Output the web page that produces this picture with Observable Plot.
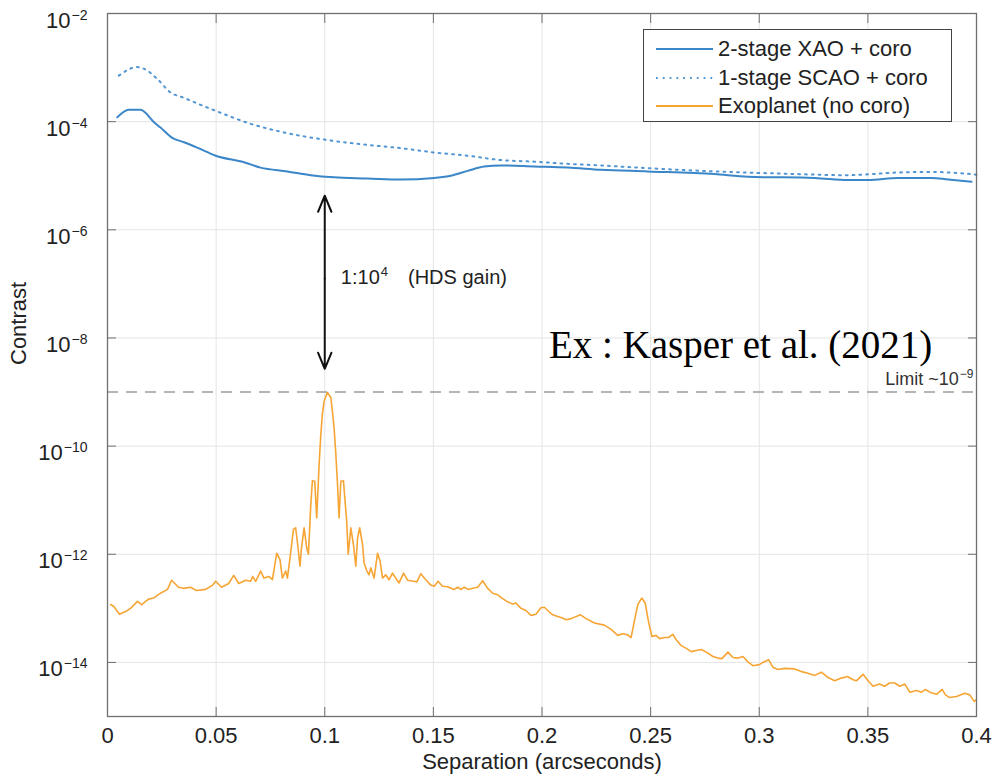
<!DOCTYPE html>
<html><head><meta charset="utf-8">
<script src="https://cdn.jsdelivr.net/npm/d3@7"></script>
<script src="https://cdn.jsdelivr.net/npm/@observablehq/plot@0.6"></script>
<style>
body{margin:0;background:#fff;}
#wrap{position:relative;width:995px;height:779px;font-family:"Liberation Sans",Arial,sans-serif;}
#legend{position:absolute;left:643px;top:29px;width:307px;height:91px;border:1px solid #444;background:#fff;}
#legend .row{position:absolute;left:0;height:28px;width:307px;}
#legend svg{position:absolute;left:12px;top:0;}
#legend span{position:absolute;left:74px;top:1px;font-size:22px;color:#222;white-space:nowrap;line-height:26px;}
</style></head><body><div id="wrap"></div>
<script>
// ---- axis ticks ----
const xTicks = [0, 0.05, 0.1, 0.15, 0.2, 0.25, 0.3, 0.35, 0.4];
const xTickLabels = ["0", "0.05", "0.1", "0.15", "0.2", "0.25", "0.3", "0.35", "0.4"];
const yTickExponents = [-14, -12, -10, -8, -6, -4, -2];
const yTicks = yTickExponents.map(e => 10 ** e);

// ---- series: separation (arcsec) and log10(contrast) ----
const xaoSep = [0.0045,0.0098,0.0152,0.0214,0.0244,0.0298,0.0352,0.0413,0.0498,0.0628,0.0705,0.0828,0.0935,0.1043,0.1197,0.1350,0.1504,0.1581,0.1658,0.1734,0.1811,0.1965,0.2118,0.2272,0.2487,0.2794,0.2948,0.3255,0.3409,0.3501,0.3639,0.3793,0.3870,0.3977];
const xaoLog = [-3.92,-3.78,-3.78,-4.01,-4.11,-4.30,-4.38,-4.48,-4.63,-4.75,-4.85,-4.92,-4.99,-5.03,-5.05,-5.07,-5.04,-5.00,-4.91,-4.83,-4.81,-4.83,-4.85,-4.89,-4.92,-4.97,-5.02,-5.04,-5.08,-5.08,-5.04,-5.04,-5.07,-5.11];

const scaoSep = [0.0052,0.0137,0.0167,0.0229,0.0290,0.0352,0.0429,0.0498,0.0659,0.0812,0.1012,0.1197,0.1350,0.1504,0.1658,0.1811,0.1965,0.2118,0.2272,0.2487,0.2794,0.3101,0.3409,0.3516,0.3639,0.3793,0.3916,0.4000];
const scaoLog = [-3.15,-2.99,-3.02,-3.21,-3.46,-3.56,-3.69,-3.80,-4.04,-4.20,-4.34,-4.43,-4.49,-4.57,-4.63,-4.71,-4.74,-4.78,-4.81,-4.86,-4.92,-4.96,-4.99,-4.97,-4.94,-4.93,-4.95,-4.98];

const exoSep = [0.0014,0.0028,0.0055,0.0083,0.0106,0.0138,0.0157,0.0189,0.0212,0.0244,0.0276,0.0295,0.0327,0.0350,0.0382,0.0410,0.0452,0.0484,0.0498,0.0525,0.0558,0.0581,0.0604,0.0636,0.0659,0.0668,0.0682,
0.0705,0.0720,0.0743,0.0759,0.0779,0.0794,0.0805,0.0820,0.0828,0.0840,0.0856,0.0866,0.0877,0.0886,0.0893,0.0905,0.0917,0.0925,0.0935,0.0943,0.0954,0.0963,0.0974,0.0982,0.0989,0.0997,0.1012,0.1028,0.1035,0.1043,0.1051,0.1058,0.1066,0.1074,0.1086,0.1101,0.1108,0.1120,0.1132,0.1143,0.1151,0.1161,0.1174,0.1181,0.1194,0.1204,0.1212,0.1227,0.1243,0.1255,0.1266,0.1281,0.1296,0.1312,
0.1342,0.1363,0.1381,0.1409,0.1424,0.1442,0.1465,0.1488,0.1504,0.1522,0.1542,0.1565,0.1596,0.1612,0.1627,0.1642,0.1660,0.1681,0.1704,0.1727,0.1750,0.1773,0.1796,0.1819,0.1842,0.1865,0.1880,0.1903,0.1926,0.1949,0.1972,0.1995,0.2011,0.2026,0.2049,0.2072,0.2095,0.2111,0.2134,
0.2177,0.2203,0.2241,0.2287,0.2318,0.2349,0.2372,0.2395,0.2410,0.2425,0.2441,0.2459,0.2475,0.2490,0.2506,0.2525,0.2541,0.2564,0.2582,0.2602,0.2618,0.2641,0.2664,0.2687,0.2710,0.2733,0.2756,0.2787,0.2810,0.2828,0.2856,0.2879,0.2902,0.2925,0.2948,0.2971,0.3001,
0.3017,0.3043,0.3063,0.3086,0.3117,0.3163,0.3194,0.3224,0.3255,0.3286,0.3317,0.3347,0.3378,0.3406,0.3432,0.3447,0.3478,0.3501,0.3524,0.3554,0.3577,0.3600,0.3624,0.3647,0.3670,0.3693,0.3724,0.3747,0.3765,0.3785,0.3816,0.3842,0.3857,0.3877,0.3908,0.3946,0.3969,0.3989,0.4000];
const exoLog = [-12.93,-12.96,-13.11,-13.06,-13.00,-12.87,-12.93,-12.83,-12.81,-12.72,-12.65,-12.48,-12.61,-12.63,-12.61,-12.67,-12.65,-12.57,-12.50,-12.61,-12.54,-12.39,-12.54,-12.48,-12.50,-12.41,-12.50,
-12.31,-12.44,-12.41,-12.47,-11.98,-12.10,-12.44,-12.31,-12.44,-12.07,-11.54,-11.51,-11.88,-12.22,-11.88,-11.51,-11.88,-12.00,-11.14,-10.64,-10.65,-11.33,-10.34,-9.78,-9.41,-9.17,-9.01,-9.10,-9.35,-9.66,-10.15,-10.65,-11.33,-10.65,-10.64,-11.39,-12.00,-11.51,-11.82,-12.22,-11.70,-11.51,-11.82,-12.16,-12.31,-12.38,-12.25,-12.44,-11.98,-12.13,-12.44,-12.38,-12.47,-12.35,
-12.53,-12.35,-12.48,-12.50,-12.51,-12.36,-12.47,-12.57,-12.59,-12.50,-12.59,-12.60,-12.65,-12.61,-12.65,-12.61,-12.65,-12.63,-12.61,-12.49,-12.63,-12.72,-12.75,-12.82,-12.88,-12.92,-12.90,-13.00,-13.04,-13.13,-13.11,-12.99,-12.98,-13.04,-13.12,-13.15,-13.18,-13.21,-13.19,
-13.12,-13.19,-13.27,-13.31,-13.39,-13.50,-13.47,-13.49,-13.54,-13.24,-12.93,-12.81,-12.90,-13.24,-13.52,-13.50,-13.56,-13.54,-13.54,-13.48,-13.58,-13.69,-13.74,-13.80,-13.78,-13.76,-13.81,-13.89,-13.92,-13.93,-13.81,-13.91,-13.92,-13.89,-13.99,-14.06,-14.04,
-14.00,-13.95,-14.09,-14.13,-14.11,-14.12,-14.17,-14.20,-14.24,-14.18,-14.28,-14.34,-14.29,-14.26,-14.32,-14.34,-14.22,-14.34,-14.44,-14.40,-14.44,-14.38,-14.38,-14.44,-14.40,-14.55,-14.52,-14.55,-14.50,-14.55,-14.59,-14.50,-14.60,-14.65,-14.63,-14.57,-14.60,-14.72,-14.69];

const seriesNames = ["2-stage XAO + coro", "1-stage SCAO + coro", "Exoplanet (no coro)"];
const seriesColors = ["#3a86c8", "#5295d3", "#f6a534"];
const seriesDash = [null, "1.8,5", null];

const limitValue = 1e-9;
const limitLabel = "Limit ~10^{-9}";
const gainLabel = "1:10^{4}|(HDS gain)";
const refLabel = "Ex : Kasper et al. (2021)";
// annotation anchors (data space)
const gainArrow = {x: 0.1, mid: 10 ** -6.9, top: 10 ** -5.37, bottom: 10 ** -8.57};
const gainTextAt = {x: 0.1074, y: 10 ** -6.89};
const refTextAt = {x: 0.2032, y: 10 ** -8.14};
const limitTextAt = {x: 0.4, y: 10 ** -8.76};

const rows = (xs, ls) => xs.map((x, i) => ({x, y: 10 ** ls[i]}));
const xao = rows(xaoSep, xaoLog);
const scao = rows(scaoSep, scaoLog);
const exo = rows(exoSep, exoLog);

const frameColor = "#6f6f6f";
const gridColor = "#e4e4e4";
const fmtX = d => xTickLabels[xTicks.indexOf(d)];

const chart = Plot.plot({
  width: 995, height: 779,
  marginLeft: 107, marginRight: 19, marginTop: 13, marginBottom: 63,
  style: {fontFamily: "'Liberation Sans', Arial, sans-serif", background: "#fff", color: "#222"},
  x: {domain: [0, 0.4]},
  y: {type: "log", domain: [1e-15, 1e-2]},
  marks: [
    Plot.gridX(xTicks, {stroke: gridColor, strokeOpacity: 1, strokeWidth: 1}),
    Plot.gridY(yTicks, {stroke: gridColor, strokeOpacity: 1, strokeWidth: 1}),
    Plot.ruleY([limitValue], {stroke: "#9c9c9c", strokeWidth: 1.6, strokeDasharray: "11,8"}),
    Plot.line(scao, {x: "x", y: "y", stroke: seriesColors[1], strokeWidth: 2, strokeDasharray: seriesDash[1], curve: "monotone-x"}),
    Plot.line(xao, {x: "x", y: "y", stroke: seriesColors[0], strokeWidth: 2, curve: "monotone-x"}),
    Plot.line(exo, {x: "x", y: "y", stroke: seriesColors[2], strokeWidth: 1.6}),
    Plot.arrow([gainArrow], {x1: "x", y1: "mid", x2: "x", y2: "top", stroke: "#111", strokeWidth: 2, headLength: 13, headAngle: 45}),
    Plot.arrow([gainArrow], {x1: "x", y1: "mid", x2: "x", y2: "bottom", stroke: "#111", strokeWidth: 2, headLength: 13, headAngle: 45}),
    Plot.text([gainTextAt], {x: "x", y: "y", text: () => gainLabel, textAnchor: "start", fontSize: 20, fill: "#222", dx: 0}),
    Plot.text([refTextAt], {x: "x", y: "y", text: () => refLabel, textAnchor: "start", fontSize: 39, fill: "#000", fontFamily: "'Liberation Serif', 'Times New Roman', serif"}),
    Plot.text([limitTextAt], {x: "x", y: "y", text: () => limitLabel, textAnchor: "end", fontSize: 18, fill: "#333", dx: -3}),
    Plot.frame({stroke: frameColor, strokeWidth: 1.3}),
    // inward tick marks
    Plot.axisX({ticks: xTicks, anchor: "bottom", tickSize: 9, dy: -9, tickFormat: () => "", label: null, stroke: frameColor}),
    Plot.axisX({ticks: xTicks, anchor: "top", tickSize: 9, dy: 9, tickFormat: () => "", label: null, stroke: frameColor}),
    Plot.axisY({ticks: yTicks, anchor: "left", tickSize: 9, dx: 9, tickFormat: () => "", label: null, stroke: frameColor}),
    Plot.axisY({ticks: yTicks, anchor: "right", tickSize: 9, dx: -9, tickFormat: () => "", label: null, stroke: frameColor}),
    // tick labels
    Plot.axisX({ticks: xTicks, anchor: "bottom", tickSize: 0, tickPadding: 11, fontSize: 22, tickFormat: fmtX, label: null, fill: "#222"}),
    Plot.axisY({ticks: yTicks, anchor: "left", tickSize: 0, tickPadding: 20, fontSize: 22, tickFormat: d => "10^{" + yTickExponents[yTicks.indexOf(d)] + "}", label: null, fill: "#222"}),
    // axis titles
    Plot.text(["Separation (arcseconds)"], {frameAnchor: "bottom", text: d => d, dy: 52, fontSize: 22, fill: "#222"}),
    Plot.text(["Contrast"], {frameAnchor: "left", text: d => d, rotate: -90, dx: -89, fontSize: 22, fill: "#222"})
  ]
});

// superscript post-processing
const NS = "http://www.w3.org/2000/svg";
function superscript(el, supSize, rise, baseDy, gap) {
  const s = el.textContent;
  const m = s.match(/^(.*?)\^\{(.*?)\}(.*)$/);
  if (!m) return;
  while (el.firstChild) el.removeChild(el.firstChild);
  const t1 = document.createElementNS(NS, "tspan");
  t1.textContent = m[1];
  if (baseDy) t1.setAttribute("dy", baseDy);
  const t2 = document.createElementNS(NS, "tspan");
  t2.textContent = m[2].replace("-", "\u2212");
  t2.setAttribute("font-size", supSize);
  t2.setAttribute("dy", -rise);
  t2.setAttribute("dx", 1);
  el.appendChild(t1); el.appendChild(t2);
  const rest = m[3].replace(/^\|/, "");
  if (rest) {
    const t3 = document.createElementNS(NS, "tspan");
    t3.textContent = rest;
    t3.setAttribute("dy", rise);
    t3.setAttribute("dx", gap);
    el.appendChild(t3);
  }
}
d3.select(chart).selectAll('g[aria-label="y-axis tick label"] text').each(function() { superscript(this, 14, 8, 7, 0); });
d3.select(chart).selectAll('text').each(function() {
  const s = this.textContent;
  if (s === gainLabel) superscript(this, 13, 8, 0, 20);
  else if (s === limitLabel) superscript(this, 12, 7, 0, 0);
});

const wrap = document.getElementById("wrap");
wrap.appendChild(chart);

// legend overlay
const legend = document.createElement("div");
legend.id = "legend";
seriesNames.forEach((name, i) => {
  const row = document.createElement("div");
  row.className = "row";
  row.style.top = [5, 34, 62][i] + "px";
  const sw = d3.create("svg").attr("width", 57).attr("height", 28);
  sw.append("line").attr("x1", 0).attr("x2", 57).attr("y1", 14).attr("y2", 14)
    .attr("stroke", seriesColors[i]).attr("stroke-width", 2)
    .attr("stroke-dasharray", seriesDash[i]);
  row.appendChild(sw.node());
  const sp = document.createElement("span");
  sp.textContent = name;
  row.appendChild(sp);
  legend.appendChild(row);
});
wrap.appendChild(legend);
</script></body></html>
